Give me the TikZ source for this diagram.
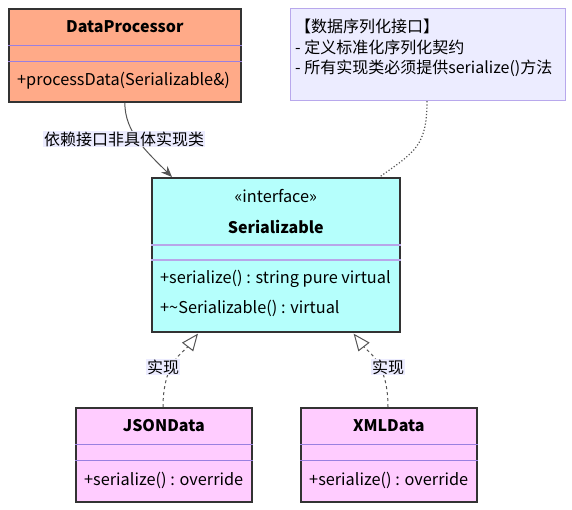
\documentclass[tikz,border=0pt]{standalone}
\usepackage{fontspec}
\setmainfont{Noto Sans CJK SC}
\usetikzlibrary{arrows.meta,positioning,calc}
\definecolor{procbg}{HTML}{FFAA88}
\definecolor{ifacebg}{HTML}{B5FFFC}
\definecolor{implbg}{HTML}{FFCCFF}
\definecolor{notebg}{HTML}{ECECFF}
\definecolor{noteline}{HTML}{B8A8EC}
\definecolor{divline}{HTML}{9A80E0}
\definecolor{boxline}{HTML}{333333}
\definecolor{edgegray}{HTML}{555555}

\begin{document}
\begin{tikzpicture}[
  x=1pt,y=-1pt,
  font=\fontsize{16.3}{19}\selectfont,
  classbox/.style={draw=boxline,line width=1.6pt,anchor=north west,inner sep=0pt},
  divider/.style={divline,line width=1pt},
  ttl/.style={font=\fontsize{16}{19}\selectfont\bfseries,inner sep=0pt},
  member/.style={anchor=west,inner sep=0pt},
  elabel/.style={fill=notebg,inner sep=1pt,font=\fontsize{16}{19}\selectfont},
  realize/.style={edgegray,dashed,dash pattern=on 3pt off 3pt,line width=1pt,
    -{Triangle[open,length=17pt,width=14pt,fill=white]}},
]
\useasboundingbox (0,0) rectangle (572,509);

% ---------- top: user class and note ----------
\node[classbox,fill=procbg,minimum width=232pt,minimum height=93pt] (proc) at (8,8) {};
\node[ttl] (proctitle) at ($(proc.north)+(0,19)$) {DataProcessor};
\draw[divider] ($(proc.north west)+(0,37)$) -- ($(proc.north east)+(0,37)$);
\draw[divider] ($(proc.north west)+(0,53)$) -- ($(proc.north east)+(0,53)$);
\node[member] (procop) at ($(proc.north west)+(9,73)$) {+processData(Serializable\&)};

\node[draw=noteline,line width=1.2pt,fill=notebg,anchor=north west,inner sep=0pt,
      minimum width=275pt,minimum height=92pt] (note) at (290,8) {};
\node[anchor=north west,align=left,inner sep=0pt,font=\fontsize{16}{20.5}\selectfont]
      (notetext) at ($(note.north west)+(5,11)$)
      {【数据序列化接口】\\- 定义标准化序列化契约\\- 所有实现类必须提供serialize()方法};

% ---------- middle: the interface ----------
\node[classbox,fill=ifacebg,minimum width=248pt,minimum height=154pt] (iface) at (151,177) {};
\node[inner sep=0pt] (stereo) at ($(iface.north)+(0,19)$) {«interface»};
\node[ttl] (ifacetitle) at ($(iface.north)+(0,50)$) {Serializable};
\draw[divider,divline!70,line width=1.5pt] ($(iface.north west)+(0,68)$) -- ($(iface.north east)+(0,68)$);
\draw[divider,divline!70,line width=1.5pt] ($(iface.north west)+(0,83)$) -- ($(iface.north east)+(0,83)$);
\node[member] (ifaceop1) at ($(iface.north west)+(9,102)$) {+serialize() : string pure virtual};
\node[member] (ifaceop2) at ($(iface.north west)+(9,131)$) {+\textasciitilde Serializable() : virtual};

% ---------- bottom: the two implementations ----------
\foreach \nm/\lbl/\xx in {json/JSONData/75,xml/XMLData/300}{
  \node[classbox,fill=implbg,minimum width=176pt,minimum height=94pt] (\nm) at (\xx,407) {};
  \node[ttl] (\nm title) at ($(\nm.north)+(0,19)$) {\lbl};
  \draw[divider] ($(\nm.north west)+(0,37)$) -- ($(\nm.north east)+(0,37)$);
  \draw[divider] ($(\nm.north west)+(0,53)$) -- ($(\nm.north east)+(0,53)$);
  \node[member] (\nm op) at ($(\nm.north west)+(9,73)$) {+serialize() : override};
}

% ---------- connectors ----------
\coordinate (deptip) at ($(iface.north west)+(21,0)$);
\draw[edgegray,line width=1pt,-{Stealth[length=11pt,width=9pt]}]
  (proc.south) .. controls +(0,30) and +(-25,-25) .. (deptip);
\node[elabel] (deplab) at (124,139) {依赖接口非具体实现类};

\coordinate (notefoot) at ($(note.south west)+(137,0)$);
\coordinate (notetip) at ($(iface.north east)+(-21,0)$);
\draw[edgegray,line width=1.2pt,dotted] (notefoot) .. controls +(0,45) and +(35,-25) .. (notetip);

\coordinate (jtip) at ($(iface.south west)+(47,1)$);
\coordinate (xtip) at ($(iface.south east)+(-47,1)$);
\draw[realize] (json.north -| 163,0) .. controls +(0,-45) and +(-14,18) .. (jtip);
\draw[realize] (xml.north -| 388,0) .. controls +(0,-45) and +(14,18) .. (xtip);
\node[elabel] (jlab) at (163,367) {实现};
\node[elabel] (xlab) at (388,367) {实现};

\end{tikzpicture}
\end{document}
